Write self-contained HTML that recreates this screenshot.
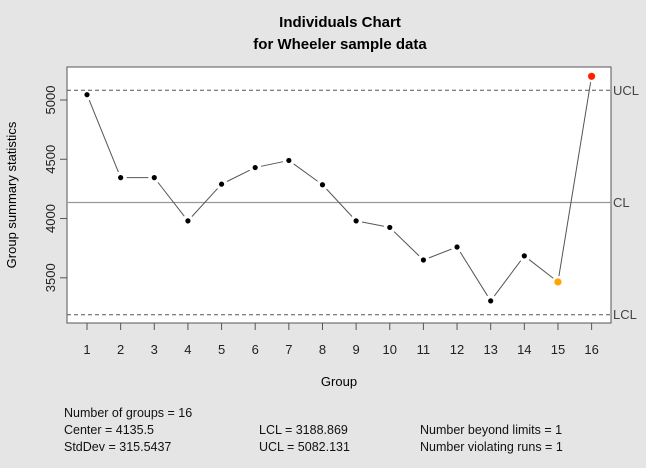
<!DOCTYPE html>
<html><head><meta charset="utf-8"><style>
body{margin:0;background:#e5e5e5;}
svg text{font-family:"Liberation Sans",sans-serif;}
</style></head><body>
<svg id="s" width="646" height="463" xmlns="http://www.w3.org/2000/svg">
<rect width="646" height="463" fill="#e5e5e5"/>
<text x="340" y="27" font-size="15" font-weight="bold" text-anchor="middle">Individuals Chart</text>
<text x="340" y="49" font-size="15" font-weight="bold" text-anchor="middle">for Wheeler sample data</text>
<rect x="67" y="67" width="544" height="256" fill="#fff" stroke="#555" stroke-width="1"/>
<line x1="67" x2="611" y1="90.3" y2="90.3" stroke="#555" stroke-dasharray="4,3"/>
<line x1="67" x2="611" y1="314.7" y2="314.7" stroke="#555" stroke-dasharray="4,3"/>
<line x1="67" x2="611" y1="202.5" y2="202.5" stroke="#999" stroke-width="1.3"/>
<text x="613" y="95" font-size="13" fill="#444">UCL</text>
<text x="613" y="207" font-size="13" fill="#444">CL</text>
<text x="613" y="319" font-size="13" fill="#444">LCL</text>
<g id="ax" stroke="#555"></g>
<g id="ln" stroke="#555" stroke-width="1"></g>
<g id="pt"></g>
<g font-size="13" fill="#222" id="tl"></g>
<text transform="translate(16,195) rotate(-90)" font-size="13" text-anchor="middle">Group summary statistics</text>
<text x="339" y="386" font-size="13" text-anchor="middle">Group</text>
<g font-size="12.5" fill="#111">
<text x="64" y="417">Number of groups = 16</text>
<text x="64" y="434">Center = 4135.5</text>
<text x="64" y="451">StdDev = 315.5437</text>
<text x="259" y="434">LCL = 3188.869</text>
<text x="259" y="451">UCL = 5082.131</text>
<text x="420" y="434">Number beyond limits = 1</text>
<text x="420" y="451">Number violating runs = 1</text>
</g>
</svg>
<script>
var NS="http://www.w3.org/2000/svg";
function el(p,t,a){var e=document.createElementNS(NS,t);for(var k in a)e.setAttribute(k,a[k]);document.getElementById(p).appendChild(e);return e;}
function X(i){return 87+(i-1)*33.64;}
function Y(v){return 100+(5000-v)*0.11853;}
var d=[5045,4345,4345,3980,4290,4430,4490,4285,3980,3925,3650,3760,3305,3685,3465,5200];
for(var i=1;i<=16;i++){el("ax","line",{x1:X(i),x2:X(i),y1:323,y2:330});var t=el("tl","text",{x:X(i),y:354,"text-anchor":"middle"});t.textContent=i;}
[3500,4000,4500,5000].forEach(function(v){el("ax","line",{x1:60,x2:67,y1:Y(v),y2:Y(v)});var t=el("tl","text",{transform:"translate(55,"+Y(v)+") rotate(-90)","text-anchor":"middle"});t.textContent=v;});
for(var i=0;i<15;i++){var x1=X(i+1),y1=Y(d[i]),x2=X(i+2),y2=Y(d[i+1]);var dx=x2-x1,dy=y2-y1,L=Math.sqrt(dx*dx+dy*dy),g=6;
el("ln","line",{x1:x1+dx/L*g,y1:y1+dy/L*g,x2:x2-dx/L*g,y2:y2-dy/L*g});}
for(var i=0;i<16;i++){var c="#000",r=2.6;if(i==14){c="#ffa500";r=3.6}if(i==15){c="#ff2000";r=3.6}el("pt","circle",{cx:X(i+1),cy:Y(d[i]),r:r,fill:c});}
</script>
</body></html>
